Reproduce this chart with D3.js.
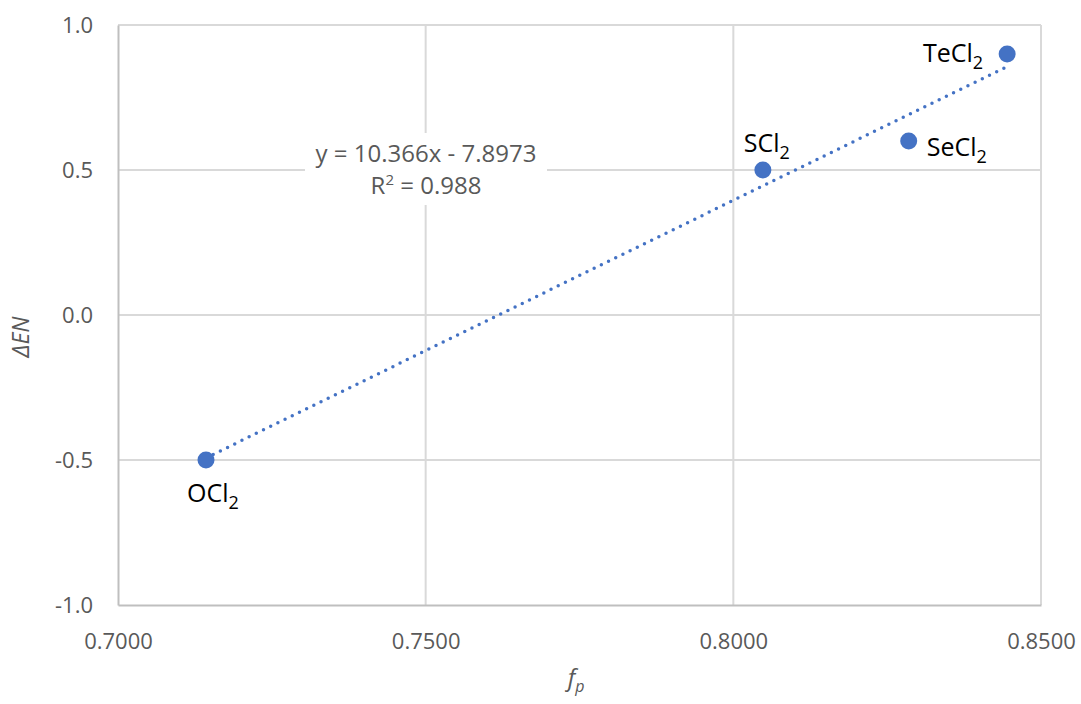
<!DOCTYPE html>
<html>
<head>
<meta charset="utf-8">
<script src="https://cdn.jsdelivr.net/npm/d3@7"></script>
<style>
  body { margin: 0; background: #fff; }
  svg text { font-family: "Open Sans", "Noto Sans", sans-serif; }
</style>
</head>
<body>
<svg id="chart" width="1081" height="704"></svg>
<script>
// data
const compounds = ['OCl2', 'SCl2', 'SeCl2', 'TeCl2'];
const labelMain = ['OCl', 'SCl', 'SeCl', 'TeCl'];
const fpValues = [0.7143, 0.8048, 0.8285, 0.8445];
const enValues = [-0.5, 0.5, 0.6, 0.9];
const xTicks = [0.70, 0.75, 0.80, 0.85];
const yTicks = [-1.0, -0.5, 0.0, 0.5, 1.0];
const slope = 10.366, intercept = -7.8973, r2 = 0.988;

const margin = {top: 25, left: 118, right: 40, bottom: 99};
const width = 1081, height = 704;

const svg = d3.select('#chart');

const x = d3.scaleLinear().domain([0.70, 0.85]).range([margin.left, width - margin.right]);
const y = d3.scaleLinear().domain([-1, 1]).range([height - margin.bottom, margin.top]);

// gridlines
svg.append('g')
  .selectAll('line')
  .data(xTicks.slice(1))
  .join('line')
  .attr('x1', d => x(d)).attr('x2', d => x(d))
  .attr('y1', y(1)).attr('y2', y(-1))
  .attr('stroke', '#d9d9d9').attr('stroke-width', 2);

svg.append('g')
  .selectAll('line')
  .data(yTicks.slice(1))
  .join('line')
  .attr('x1', x(0.70)).attr('x2', x(0.85))
  .attr('y1', d => y(d)).attr('y2', d => y(d))
  .attr('stroke', '#d9d9d9').attr('stroke-width', 2);

// axes
const hyphen = f => d => f(d).replace('\u2212', '-');
const xAxis = svg.append('g')
  .attr('transform', `translate(0,${y(-1)})`)
  .call(d3.axisBottom(x).tickValues(xTicks).tickFormat(d3.format('.4f')).tickSize(0).tickPadding(28));
const yAxis = svg.append('g')
  .attr('transform', `translate(${x(0.70)},0)`)
  .call(d3.axisLeft(y).tickValues(yTicks).tickFormat(hyphen(d3.format('.1f'))).tickSize(0).tickPadding(25));

[xAxis, yAxis].forEach(a => {
  a.select('.domain').attr('stroke', '#bfbfbf').attr('stroke-width', 2);
  a.selectAll('text').attr('fill', '#595959').style('font-size', '22px');
});

// axis titles
svg.append('text')
  .attr('x', 576).attr('y', 686)
  .attr('text-anchor', 'middle')
  .attr('fill', '#595959')
  .style('font-size', '24px').style('font-style', 'italic')
  .html('f<tspan dy="6" font-size="16">p</tspan>');

svg.append('text')
  .attr('transform', `translate(29,337) rotate(-90)`)
  .attr('text-anchor', 'middle')
  .attr('fill', '#595959')
  .style('font-size', '23px').style('font-style', 'italic')
  .text('ΔEN');

// trendline
const xs = d3.extent(fpValues);
svg.append('line')
  .attr('x1', x(xs[0])).attr('y1', y(slope * xs[0] + intercept))
  .attr('x2', x(xs[1])).attr('y2', y(slope * xs[1] + intercept))
  .attr('stroke', '#4472c4').attr('stroke-width', 3.5)
  .attr('stroke-dasharray', '0 8').attr('stroke-linecap', 'round');

// points
svg.append('g')
  .selectAll('circle')
  .data(compounds)
  .join('circle')
  .attr('cx', (d, i) => x(fpValues[i]))
  .attr('cy', (d, i) => y(enValues[i]))
  .attr('r', 8.5)
  .attr('fill', '#4472c4');

// point labels
const labelPos = [
  {dx: 7, dy: 42, anchor: 'middle'},
  {dx: 4, dy: -18, anchor: 'middle'},
  {dx: 18, dy: 15, anchor: 'start'},
  {dx: -24, dy: 8, anchor: 'end'}
];
svg.append('g')
  .selectAll('text')
  .data(compounds)
  .join('text')
  .attr('x', (d, i) => x(fpValues[i]) + labelPos[i].dx)
  .attr('y', (d, i) => y(enValues[i]) + labelPos[i].dy)
  .attr('text-anchor', (d, i) => labelPos[i].anchor)
  .attr('fill', '#000')
  .style('font-size', '25px')
  .html((d, i) => `${labelMain[i]}<tspan dy="7" font-size="18">2</tspan>`);

// equation label
const eq = svg.append('g').attr('transform', `translate(426,0)`);
eq.append('rect')
  .attr('x', -121).attr('y', 133).attr('width', 242).attr('height', 72)
  .attr('fill', '#fff');
eq.append('text')
  .attr('y', 162).attr('text-anchor', 'middle')
  .attr('fill', '#595959').style('font-size', '24px')
  .text(`y = ${slope}x - ${-intercept}`);
eq.append('text')
  .attr('y', 194).attr('text-anchor', 'middle')
  .attr('fill', '#595959').style('font-size', '24px')
  .html(`R<tspan dy="-9" font-size="15">2</tspan><tspan dy="9"> = ${r2}</tspan>`);
</script>
</body>
</html>
